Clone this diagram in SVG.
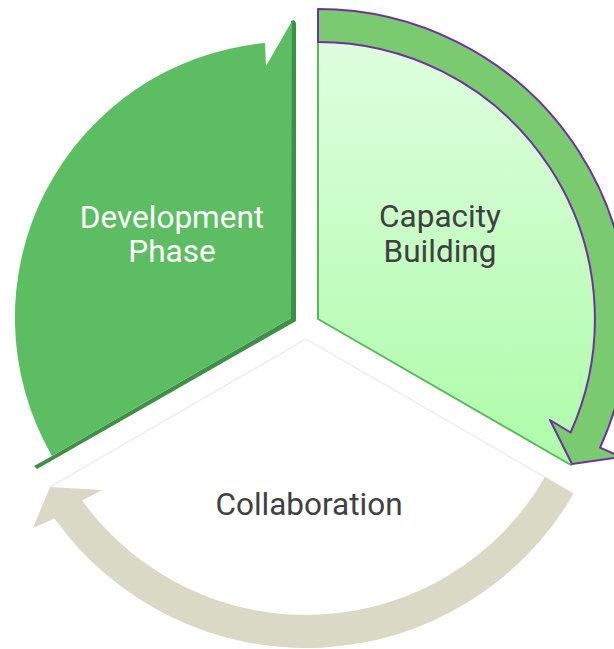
<svg xmlns="http://www.w3.org/2000/svg" width="614" height="649" viewBox="0 0 614 649">
  <defs>
    <linearGradient id="capGrad" x1="0" y1="0" x2="0" y2="1">
      <stop offset="0" stop-color="#E0FEE0"/>
      <stop offset="1" stop-color="#ADFCA9"/>
    </linearGradient>
    <style>
      .lbl { font-family: Roboto, "Liberation Sans", sans-serif; font-size: 31.5px; text-anchor: middle; }
      .dark { fill: #404040; }
      .light { fill: #FFFFFF; }
    </style>
  </defs>
  <rect width="614" height="649" fill="#FFFFFF"/>

  <g id="collaboration">
    <path d="M306,339 L562,487 A296 296 0 0 1 50,487 Z" fill="#FFFFFF" stroke="#F0F0F0" stroke-width="2"/>
    <text class="lbl dark" x="309" y="515">Collaboration</text>
  </g>

  <g id="capacity-building">
    <path d="M318,319 L318,27 A292 292 0 0 1 570.9,465 Z" fill="url(#capGrad)" stroke="#5CB85C" stroke-width="2" stroke-linejoin="round"/>
    <text class="lbl dark" x="440" y="227">Capacity</text>
    <text class="lbl dark" x="440" y="262">Building</text>
  </g>

  <g id="development-phase">
    <path d="M291,21 L294,20 L296,23 L296,321 L37,469 L34,466 L52,456 L291,318 Z" fill="#3F8F47"/>
    <path d="M291,318 L52,456 A276 276 0 0 1 265,43 L266,66 L292,21 Z" fill="#5CBD62"/>
    <text class="lbl light" x="172" y="228">Development</text>
    <text class="lbl light" x="172" y="262">Phase</text>
  </g>

  <g id="connectors">
    <path id="arrow-capacity" d="M318,9 A310 310 0 0 1 600.1,447.6 L621,457 L572,464 L550,420 L570.6,432.5 A277 277 0 0 0 318,42 Z" fill="#7ACB6F" stroke="#7030A0" stroke-width="2" stroke-linejoin="round"/>
    <path id="arrow-collaboration" d="M573.6,493.5 A309 309 0 0 1 54.5,518.5 L33,528 L50,487 L102,490 L82.2,500.5 A276 276 0 0 0 545,477 Z" fill="#DAD9C5"/>
  </g>
</svg>
